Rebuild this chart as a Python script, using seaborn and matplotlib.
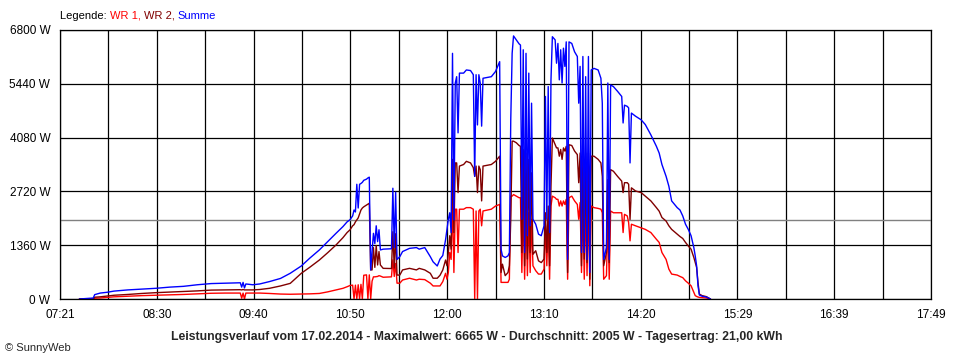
import matplotlib
matplotlib.use("Agg")
import matplotlib.pyplot as plt
import seaborn as sns
import pandas as pd

# time of day and power values (W)
times = ["07:35", "07:45", "07:46", "07:50", "07:55", "08:00", "08:10", "08:20", "08:30", "08:40",
         "08:50", "09:00", "09:10", "09:20", "09:31", "09:32", "09:33", "09:34", "09:35", "09:40",
         "09:45", "09:52", "10:00", "10:07", "10:15", "10:21", "10:28", "10:34", "10:40", "10:45",
         "10:48", "10:50", "10:52", "10:53", "10:54", "10:55", "10:56", "10:57", "10:58", "10:59",
         "11:00", "11:02", "11:03", "11:04", "11:05", "11:06", "11:07", "11:08", "11:09", "11:10",
         "11:11", "11:12", "11:14", "11:20", "11:21", "11:22", "11:23", "11:24", "11:26", "11:28",
         "11:33", "11:38", "11:40", "11:44", "11:48", "11:50", "11:53", "11:55", "11:57", "11:59",
         "12:00", "12:01", "12:02", "12:03", "12:04", "12:05", "12:06", "12:07", "12:08", "12:09",
         "12:12", "12:14", "12:17", "12:19", "12:20", "12:21", "12:22", "12:23", "12:24", "12:25",
         "12:26", "12:32", "12:35", "12:38", "12:39", "12:40", "12:42", "12:44", "12:45", "12:46",
         "12:47", "12:48", "12:50", "12:52", "12:53", "12:54", "12:55", "12:56", "12:57", "12:58",
         "12:59", "13:00", "13:01", "13:02", "13:04", "13:06", "13:08", "13:10", "13:11", "13:12",
         "13:13", "13:14", "13:15", "13:16", "13:18", "13:19", "13:20", "13:21", "13:22", "13:23",
         "13:24", "13:25", "13:26", "13:27", "13:28", "13:30", "13:32", "13:34", "13:35", "13:36",
         "13:37", "13:38", "13:39", "13:40", "13:41", "13:42", "13:43", "13:44", "13:46", "13:49",
         "13:51", "13:52", "13:53", "13:55", "13:56", "13:57", "13:58", "14:00", "14:03", "14:06",
         "14:07", "14:08", "14:10", "14:11", "14:12", "14:13", "14:16", "14:20", "14:23", "14:27",
         "14:31", "14:33", "14:35", "14:38", "14:40", "14:42", "14:46", "14:48", "14:50", "14:52",
         "14:54", "14:56", "14:58", "14:59", "15:00", "15:01", "15:02", "15:04", "15:07", "15:10"]

wr1 = [0, 0, 20, 25, 40, 55, 70, 85, 95, 105,
       115, 130, 145, 150, 150, 20, 150, 0, 150, 150,
       150, 140, 125, 120, 125, 130, 140, 180, 230, 270,
       310, 340, 350, 0, 350, 0, 360, 0, 370, 0,
       600, 610, 0, 610, 0, 450, 560, 560, 565, 570,
       590, 580, 550, 560, 990, 570, 900, 400, 400, 480,
       525, 480, 500, 490, 400, 330, 330, 330, 440, 650,
       500, 670, 1175, 1000, 2520, 670, 2270, 2270, 1175, 2270,
       2270, 2310, 2310, 2270, 0, 2225, 0, 2225, 2270, 1850,
       2225, 2270, 2350, 2390, 420, 420, 420, 420, 500, 2600,
       2600, 2640, 2600, 2560, 2560, 670, 2350, 500, 2270, 590,
       2180, 670, 2015, 840, 715, 630, 630, 755, 1850, 840,
       2015, 500, 2350, 2600, 2560, 2520, 2520, 2350, 2480, 2350,
       2480, 2390, 2520, 500, 2560, 2600, 2480, 2390, 2015, 2440,
       670, 2440, 500, 2440, 590, 2480, 335, 2350, 2310, 2290,
       2270, 2180, 500, 590, 2015, 500, 2225, 2180, 2180, 2180,
       1680, 2140, 2100, 1930, 1470, 1890, 1850, 1800, 1760, 1680,
       1510, 1430, 1175, 1000, 755, 630, 605, 570, 540, 460,
       400, 335, 170, 85, 65, 50, 40, 35, 25, 0]

wr2 = [0, 0, 45, 55, 75, 95, 115, 140, 160, 175,
       190, 205, 225, 230, 235, 230, 240, 230, 230, 230,
       240, 270, 330, 395, 650, 800, 985, 1170, 1365, 1550,
       1680, 1745, 1850, 1880, 1950, 2000, 2050, 2150, 2250, 2300,
       2330, 2375, 2400, 2420, 735, 735, 1300, 800, 1350, 860,
       1200, 860, 775, 770, 1700, 780, 1650, 605, 605, 735,
       775, 735, 775, 735, 650, 525, 525, 600, 735, 985,
       840, 1175, 1600, 1260, 3530, 1680, 3440, 3440, 2690, 3360,
       3400, 3480, 3440, 3320, 3100, 3360, 2690, 3360, 3270, 2480,
       3360, 3400, 3480, 3610, 670, 880, 590, 670, 840, 2010,
       3990, 3990, 3950, 3880, 3860, 1175, 3780, 840, 3690, 1010,
       3530, 1175, 3190, 1130, 1220, 965, 920, 1010, 2180, 1175,
       2350, 840, 2850, 4070, 3900, 3820, 3820, 3610, 3780, 3530,
       3820, 3740, 3860, 670, 3900, 3880, 3740, 3650, 2940, 3690,
       840, 3610, 1010, 3690, 920, 3690, 500, 3610, 3610, 3530,
       3440, 3100, 840, 1175, 3020, 920, 3270, 3230, 3100, 2980,
       2690, 2940, 2940, 2900, 2010, 2810, 2730, 2690, 2600, 2480,
       2310, 2220, 2060, 1970, 1850, 1760, 1640, 1580, 1530, 1430,
       1340, 1260, 1050, 920, 800, 420, 125, 85, 60, 0]

summe = [0, 25, 110, 150, 170, 200, 230, 250, 270, 300,
         320, 360, 390, 400, 410, 300, 420, 280, 380, 360,
         380, 440, 520, 650, 835, 1030, 1240, 1450, 1660, 1830,
         1950, 2000, 2100, 2250, 2200, 2900, 2300, 2900, 2920, 2950,
         3000, 3030, 3060, 3080, 735, 1200, 1660, 1400, 1850, 1450,
         1750, 1240, 1260, 1270, 2800, 1300, 2700, 1000, 1070, 1200,
         1280, 1300, 1260, 1300, 1070, 940, 835, 1010, 1100, 1500,
         1760, 2015, 2180, 1680, 6210, 2000, 5460, 5620, 4200, 5710,
         5710, 5790, 5775, 5670, 3100, 5670, 4400, 5670, 5460, 4370,
         5580, 5620, 5750, 6000, 1260, 1090, 1050, 1090, 1175, 4530,
         6210, 6650, 6550, 6450, 6420, 2015, 6300, 1175, 6210, 1600,
         5710, 1850, 4950, 2015, 1890, 1640, 1600, 1850, 5120, 2015,
         5370, 1680, 5540, 6630, 6550, 5960, 6460, 5540, 6300, 5460,
         6340, 5880, 6500, 1000, 6500, 6460, 6250, 6130, 4950, 5880,
         1175, 6130, 1175, 5620, 1000, 6130, 670, 5790, 5830, 5790,
         5580, 4950, 1000, 1300, 5460, 1000, 5410, 5370, 5250, 5120,
         4450, 4900, 4870, 4830, 3440, 4700, 4620, 4530, 4410, 4150,
         3860, 3690, 3400, 3100, 2850, 2480, 2310, 2250, 2100, 1890,
         1760, 1600, 1300, 1090, 840, 335, 100, 70, 50, 0]

x_labels = ["07:21", "08:30", "09:40", "10:50", "12:00", "13:10", "14:20", "15:29", "16:39", "17:49"]
y_values = [0, 1360, 2720, 4080, 5440, 6800]
average = 2005
title = "Leistungsverlauf vom 17.02.2014 - Maximalwert: 6665 W - Durchschnitt: 2005 W - Tagesertrag: 21,00 kWh"


def to_min(s):
    h, m = s.split(":")
    return int(h) * 60 + int(m)


df = pd.DataFrame({"t": [to_min(s) for s in times], "WR 1": wr1, "WR 2": wr2, "Summe": summe})

sns.set_style("white")
plt.rcParams["font.family"] = ["Liberation Sans", "DejaVu Sans"]

fig = plt.figure(figsize=(9.6, 3.6), dpi=100)
ax = fig.add_axes([60 / 960, 61 / 360, 871 / 960, 269 / 360])

t0, t1 = to_min(x_labels[0]), to_min(x_labels[-1])
xt = [t0 + k * (t1 - t0) / 18 for k in range(19)]

ax.axhline(average, color="#808080", lw=1.0, zorder=1.5)
colors = {"WR 1": "#ff0000", "WR 2": "#800000", "Summe": "#0000ff"}
for col, c in colors.items():
    sns.lineplot(data=df, x="t", y=col, ax=ax, color=c, linewidth=1.0,
                 estimator=None, zorder=2)

ax.set_xlim(t0, t1)
ax.set_ylim(0, 6800)
ax.set_xticks(xt)
ax.set_xticklabels([x_labels[k // 2] if k % 2 == 0 else "" for k in range(19)])
ax.set_yticks(y_values)
ax.set_yticklabels([f"{v} W" for v in y_values])
ax.set_xlabel("")
ax.set_ylabel("")
ax.grid(True, color="black", linewidth=0.9)
ax.set_axisbelow(True)
for sp in ax.spines.values():
    sp.set_color("black")
    sp.set_linewidth(0.9)
ax.tick_params(direction="out", length=4, width=0.9, color="black", labelsize=8.5,
               labelcolor="black", pad=3)

fig.text(0.497, 23 / 360, title, ha="center", va="center", fontsize=8.8, fontweight="bold")
fig.text(5 / 960, 12 / 360, "\u00a9 SunnyWeb", ha="left", va="center", fontsize=8)

# multi coloured legend line at the top
fig.canvas.draw()
renderer = fig.canvas.get_renderer()
x = 60 / 960
for txt, c in [("Legende: ", "black"), ("WR 1, ", "#ff0000"), ("WR 2, ", "#800000"), ("Summe", "#0000ff")]:
    t = fig.text(x, 1 - 16 / 360, txt, ha="left", va="center", fontsize=8, color=c)
    bb = t.get_window_extent(renderer)
    x = fig.transFigure.inverted().transform((bb.x1, 0))[0]

fig.savefig("out.png", dpi=100)
